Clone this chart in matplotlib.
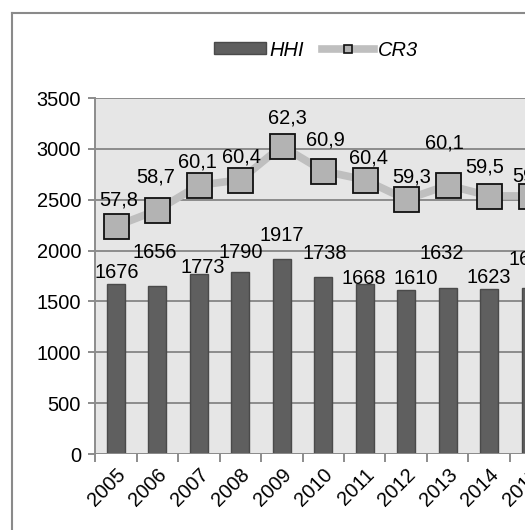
import matplotlib
matplotlib.use("Agg")
import matplotlib.pyplot as plt
import numpy as np
from matplotlib.lines import Line2D
from matplotlib.patches import Patch

plt.rcParams['font.family'] = ['Liberation Sans', 'DejaVu Sans']
FS = 14.4

# data
years = ['2005', '2006', '2007', '2008', '2009', '2010', '2011', '2012', '2013', '2014', '2015']
hhi = [1676, 1656, 1773, 1790, 1917, 1738, 1668, 1610, 1632, 1623, 1635]
cr3 = [57.8, 58.7, 60.1, 60.4, 62.3, 60.9, 60.4, 59.3, 60.1, 59.5, 59.5]

# label offsets in pixels (dx, dy) relative to the mark
hhi_off = [(1, 11), (-2, 33), (4, 6), (1, 19), (0, 24), (2, 24), (-1, 6), (10, 12), (-6, 35), (0, 11), (0, 28)]
cr3_off = [(3, 26), (-2, 33), (-1, 23), (1, 23), (6, 28), (2, 31), (4, 22), (5, 22), (-3, 42), (-5, 29), (1, 20)]

W, H = 525, 530
fig = plt.figure(figsize=(W / 100, H / 100), dpi=100)
fig.patch.set_facecolor('white')

x = np.arange(len(years))
left, right, bottom, top = 95, 95 + 41.5 * len(years), 454, 98
ax = fig.add_axes([left / W, 1 - bottom / H, (right - left) / W, (bottom - top) / H])
ax.set_facecolor('#e6e6e6')

ax.bar(x, hhi, width=0.44, color='#5f5f5f', edgecolor='#4a4a4a', linewidth=1, zorder=3)
ax.set_xlim(-0.5, len(years) - 0.5)
ax.set_ylim(0, 3500)
ax.set_yticks(np.arange(0, 3501, 500))
ax.yaxis.grid(True, color='#8c8c8c', linewidth=1.4, zorder=0)
ax.set_axisbelow(True)
for s in ['top', 'right', 'bottom']:
    ax.spines[s].set_visible(False)
ax.spines['left'].set_color('#8c8c8c')
ax.spines['left'].set_linewidth(1.4)
ax.tick_params(axis='y', length=5, width=1.4, color='#8c8c8c', pad=5, labelsize=FS)

# category-boundary ticks like Excel
ax.set_xticks(np.arange(len(years) + 1) - 0.5, minor=False)
ax.set_xticklabels([])
ax.set_xticks(x, minor=True)
ax.set_xticklabels(years, minor=True, rotation=45, ha='right', va='top',
                   rotation_mode='anchor', fontsize=FS)
ax.tick_params(axis='x', which='major', length=6, width=1.4, color='#8c8c8c', direction='out')
ax.tick_params(axis='x', which='minor', length=0, pad=8)
ax.axhline(0, color='#8c8c8c', linewidth=1.4, zorder=4)

for xi, v, (dx, dy) in zip(x, hhi, hhi_off):
    ax.annotate(str(v), (xi, v), xytext=(dx, dy), textcoords='offset pixels',
                ha='center', va='center', fontsize=FS, zorder=6)

ax2 = ax.twinx()
ax2.set_ylim(45, 65)
ax2.axis('off')
ax2.plot(x, cr3, color='#bfbfbf', linewidth=5.5, solid_capstyle='round', zorder=4,
         marker='s', markersize=18, markerfacecolor='#b3b3b3',
         markeredgecolor='#111111', markeredgewidth=1.3)
for xi, v, (dx, dy) in zip(x, cr3, cr3_off):
    ax2.annotate(f"{v:.1f}".replace('.', ','), (xi, v), xytext=(dx, dy),
                 textcoords='offset pixels', ha='center', va='center', fontsize=FS, zorder=6)

# outer chart border (right and bottom cut off)
fig.add_artist(Line2D([12 / W, 12 / W], [0, 1 - 13 / H], color='#8a8a8a', linewidth=1.5,
                      transform=fig.transFigure))
fig.add_artist(Line2D([12 / W, 1], [1 - 13 / H, 1 - 13 / H], color='#8a8a8a', linewidth=1.5,
                      transform=fig.transFigure))

handles = [Patch(facecolor='#5f5f5f', edgecolor='#4a4a4a'),
           Line2D([], [], color='#bfbfbf', linewidth=5.5, marker='s', markersize=6,
                  markerfacecolor='#b3b3b3', markeredgecolor='#111111', markeredgewidth=1.2)]
fig.legend(handles, ['HHI', 'CR3'], loc='center', bbox_to_anchor=(316 / W, 1 - 50 / H),
           ncol=2, frameon=False, prop={'style': 'italic', 'size': FS},
           handlelength=2.6, handleheight=0.55, handletextpad=0.2, columnspacing=0.9)

fig.savefig('out.png', dpi=100)
